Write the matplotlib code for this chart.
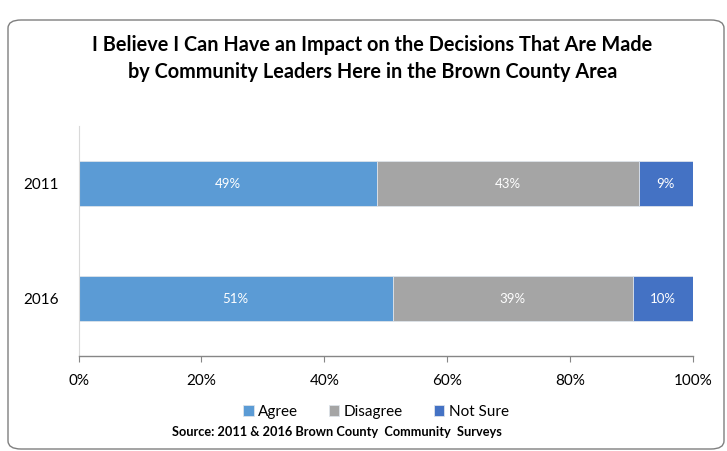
import matplotlib.pyplot as plt
from matplotlib.patches import FancyBboxPatch

# survey responses, percent of respondents
years = ["2011", "2016"]
agree = [48.6, 51.2]
disagree = [42.6, 39.0]
not_sure = [8.8, 9.8]

series_names = ["Agree", "Disagree", "Not Sure"]
series_colors = ["#5B9BD5", "#A5A5A5", "#4472C4"]
x_ticks = [0, 20, 40, 60, 80, 100]

plt.rcParams["font.family"] = ["Lato", "DejaVu Sans"]

fig = plt.figure(figsize=(7.27, 4.51), dpi=100)

# rounded frame around the chart area
frame = FancyBboxPatch(
    (8 / 727, 2 / 451), 716 / 727, 429 / 451,
    boxstyle="round,pad=0,rounding_size=0.018",
    transform=fig.transFigure, facecolor="none",
    edgecolor="#7F7F7F", linewidth=1.0, zorder=-1,
)
fig.patches.append(frame)

ax = fig.add_axes([0.108, 0.2106, 0.845, 0.51])
ax.set_facecolor("none")

pos = list(range(len(years)))
left = [0.0] * len(years)
for name, vals, color in zip(series_names, [agree, disagree, not_sure], series_colors):
    bars = ax.barh(pos, vals, left=left, height=0.39, color=color,
                   edgecolor="#DDE3EA", linewidth=0.6, label=name)
    for b, v in zip(bars, vals):
        ax.text(b.get_x() + b.get_width() / 2, b.get_y() + b.get_height() / 2,
                f"{v:.0f}%", ha="center", va="center", color="white", fontsize=9.5)
    left = [l + v for l, v in zip(left, vals)]

ax.set_xlim(0, 100)
ax.set_ylim(-0.5, len(years) - 0.5)
ax.invert_yaxis()
ax.set_yticks(pos)
ax.set_yticklabels(years, fontsize=11)
ax.set_xticks(x_ticks)
ax.set_xticklabels([f"{t}%" for t in x_ticks], fontsize=11)
ax.tick_params(axis="y", length=0, pad=14)
ax.tick_params(axis="x", length=4, width=0.8, color="#868686", pad=9, direction="out")

for side in ["top", "right"]:
    ax.spines[side].set_visible(False)
ax.spines["left"].set_color("#D9D9D9")
ax.spines["bottom"].set_color("#868686")
ax.spines["bottom"].set_linewidth(1.0)

fig.text(0.512, 0.87, "I Believe I Can Have an Impact on the Decisions That Are Made\n"
         "by Community Leaders Here in the Brown County Area",
         ha="center", va="center", fontsize=14.3, fontweight="bold",
         linespacing=1.45)

ax.legend(loc="center", bbox_to_anchor=(0.484, -0.243), ncol=3, frameon=False,
          fontsize=11, handlelength=0.7, handleheight=0.7, handletextpad=0.3,
          columnspacing=2.0)

fig.text(0.463, 0.042, "Source: 2011 & 2016 Brown County  Community  Surveys",
         ha="center", va="center", fontsize=9.2, fontweight="bold")

fig.savefig("out.png", dpi=100)
